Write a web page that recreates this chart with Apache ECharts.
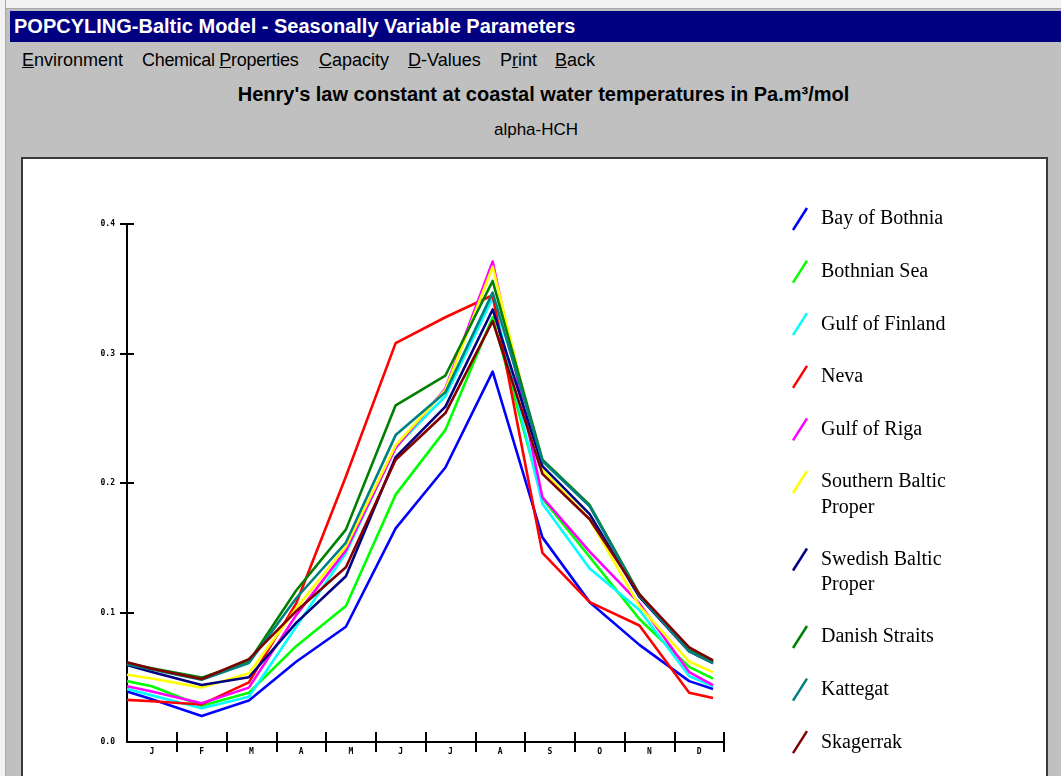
<!DOCTYPE html>
<html><head><meta charset="utf-8">
<script src="https://cdn.jsdelivr.net/npm/echarts@6/dist/echarts.min.js"></script>
<style>
html,body{margin:0;padding:0;background:#c0c0c0;overflow:hidden;width:1061px;height:776px;position:relative}
.abs{position:absolute;white-space:nowrap}
#topstrip{left:0;top:0;width:1061px;height:8px;background:#f2f2f2;border-bottom:1px solid #a8a8a8}
#leftstrip{left:0;top:0;width:5px;height:776px;background:#f2f2f2;border-right:1px solid #a8a8a8}
#titlebar{left:10px;top:11px;width:1051px;height:31px;background:#000080;color:#fff;font:bold 20px "Liberation Sans",Arial,sans-serif;line-height:31px;padding-left:4px;box-sizing:border-box}
.menu{top:49px;font:18px "Liberation Sans",Arial,sans-serif;line-height:22px;color:#000}
#heading{left:0;width:1087px;text-align:center;top:83px;font:bold 20px "Liberation Sans",Arial,sans-serif;line-height:22px;color:#000}
#sub{left:0;width:1072px;text-align:center;top:119px;font:17px "Liberation Sans",Arial,sans-serif;line-height:22px;color:#000}
#panel{left:21px;top:157px;width:1027px;height:640px;background:#fff;border:2px solid #3a3a3a;box-sizing:border-box}
#c{position:absolute;left:0;top:0;width:1061px;height:776px}
</style>
</head><body>
<div class="abs" id="topstrip"></div>
<div class="abs" id="leftstrip"></div>
<div class="abs" id="titlebar">POPCYLING-Baltic Model - Seasonally Variable Parameters</div>
<div class="abs menu" style="left:22px"><u>E</u>nvironment</div>
<div class="abs menu" style="left:142px;letter-spacing:-0.3px">Chemical <u>P</u>roperties</div>
<div class="abs menu" style="left:319px"><u>C</u>apacity</div>
<div class="abs menu" style="left:408px"><u>D</u>-Values</div>
<div class="abs menu" style="left:500px">P<u>r</u>int</div>
<div class="abs menu" style="left:555px"><u>B</u>ack</div>
<div class="abs" id="heading">Henry's law constant at coastal water temperatures in Pa.m³/mol</div>
<div class="abs" id="sub">alpha-HCH</div>
<div class="abs" id="panel"></div>
<div id="c"></div>
<script>
// ---- data ----
const monthLabels = ['J','F','M','A','M','J','J','A','S','O','N','D'];
// x positions of the data nodes, in month units along the axis (0 = start of Jan, 12 = end of Dec)
const xPositions = [0, 0.5, 1.5, 2.45, 3.4, 4.4, 5.4, 6.4, 7.35, 8.35, 9.3, 10.3, 11.3, 11.78];
const seriesNames = ['Bay of Bothnia','Bothnian Sea','Gulf of Finland','Neva','Gulf of Riga',
  'Southern Baltic\nProper','Swedish Baltic\nProper','Danish Straits','Kattegat','Skagerrak'];
const seriesColors = ['#0000ff','#00ff00','#00ffff','#ff0000','#ff00ff','#ffff00','#000080','#008000','#008080','#800000'];
const bayOfBothnia   = [0.039, 0.033, 0.020, 0.032, 0.062, 0.089, 0.165, 0.212, 0.286, 0.158, 0.108, 0.075, 0.047, 0.041];
const bothnianSea    = [0.047, 0.043, 0.028, 0.038, 0.074, 0.105, 0.191, 0.241, 0.328, 0.188, 0.143, 0.095, 0.058, 0.049];
const gulfOfFinland  = [0.041, 0.036, 0.026, 0.035, 0.089, 0.146, 0.228, 0.267, 0.343, 0.184, 0.134, 0.102, 0.051, 0.043];
const neva           = [0.0325, 0.0315, 0.029, 0.046, 0.107, 0.205, 0.308, 0.328, 0.345, 0.146, 0.108, 0.090, 0.038, 0.034];
const gulfOfRiga     = [0.043, 0.039, 0.030, 0.042, 0.098, 0.148, 0.227, 0.273, 0.371, 0.189, 0.147, 0.107, 0.054, 0.044];
const southernBaltic = [0.052, 0.049, 0.042, 0.053, 0.103, 0.151, 0.229, 0.272, 0.367, 0.210, 0.172, 0.105, 0.062, 0.054];
const swedishBaltic  = [0.0595, 0.054, 0.044, 0.050, 0.092, 0.128, 0.220, 0.259, 0.334, 0.213, 0.176, 0.112, 0.070, 0.061];
const danishStraits  = [0.061, 0.057, 0.0497, 0.062, 0.117, 0.164, 0.260, 0.283, 0.356, 0.218, 0.183, 0.114, 0.071, 0.062];
const kattegat       = [0.060, 0.056, 0.048, 0.061, 0.111, 0.154, 0.237, 0.270, 0.347, 0.217, 0.182, 0.113, 0.070, 0.061];
const skagerrak      = [0.0615, 0.0565, 0.0486, 0.064, 0.101, 0.135, 0.218, 0.254, 0.325, 0.207, 0.172, 0.114, 0.073, 0.063];
const seriesValues = [bayOfBothnia, bothnianSea, gulfOfFinland, neva, gulfOfRiga,
  southernBaltic, swedishBaltic, danishStraits, kattegat, skagerrak];
const yMin = 0, yMax = 0.4, yStep = 0.1;

// ---- chart ----
const chart = echarts.init(document.getElementById('c'), null, {renderer: 'canvas'});
const axisBlack = {color: '#000', width: 2};
const tickFont = {fontSize: 8, fontWeight: 'bold', color: '#000', fontFamily: 'DejaVu Sans Mono, monospace'};

// legend drawn as graphic elements, positions from item order
const legendEls = [];
let cy = 219;
seriesNames.forEach((name, i) => {
  legendEls.push({type: 'line', shape: {x1: 793, y1: cy + 11, x2: 807, y2: cy - 11},
    style: {stroke: seriesColors[i], lineWidth: 2.5}, z: 10});
  legendEls.push({type: 'text', x: 821, y: cy - 12.7,
    style: {text: name, fill: '#000', font: '20px "Liberation Serif", "Times New Roman", serif',
      lineHeight: 25.5, verticalAlign: 'top', align: 'left'}, z: 10});
  cy += name.includes('\n') ? 77.5 : 52.6;
});

const option = {
  animation: false,
  backgroundColor: 'transparent',
  grid: {left: 127, right: 337, top: 224, bottom: 34, containLabel: false, outerBoundsMode: 'none'},
  xAxis: [
    {type: 'value', min: 0, max: 12, interval: 1, position: 'bottom',
      axisLine: {show: true, lineStyle: axisBlack},
      axisTick: {show: true, inside: true, length: 10, lineStyle: axisBlack, customValues: [1,2,3,4,5,6,7,8,9,10,11,12]},
      axisLabel: {show: false}, splitLine: {show: false}},
    {type: 'value', min: 0, max: 12, interval: 1, position: 'bottom',
      axisLine: {show: false},
      axisTick: {show: true, inside: false, length: 10, lineStyle: axisBlack, customValues: [1,2,3,4,5,6,7,8,9,10,11,12]},
      axisLabel: {show: false}, splitLine: {show: false}},
    {type: 'category', data: monthLabels, boundaryGap: true, position: 'bottom',
      axisLine: {show: false}, axisTick: {show: false},
      axisLabel: Object.assign({interval: 0, margin: 6}, tickFont), splitLine: {show: false}}
  ],
  yAxis: [
    {type: 'value', min: yMin, max: yMax, interval: yStep, position: 'left',
      axisLine: {show: true, lineStyle: axisBlack},
      axisTick: {show: true, inside: true, length: 7, lineStyle: axisBlack},
      axisLabel: Object.assign({margin: 12, formatter: v => v.toFixed(1)}, tickFont),
      splitLine: {show: false}},
    {type: 'value', min: yMin, max: yMax, interval: yStep, position: 'left',
      axisLine: {show: false},
      axisTick: {show: true, inside: false, length: 7, lineStyle: axisBlack, customValues: [0.1, 0.2, 0.3, 0.4]},
      axisLabel: {show: false}, splitLine: {show: false}}
  ],
  series: seriesNames.map((name, i) => ({
    name: name, type: 'line', xAxisIndex: 0, yAxisIndex: 0,
    data: xPositions.map((x, k) => [x, seriesValues[i][k]]),
    showSymbol: false, symbol: 'none', smooth: false, silent: true,
    lineStyle: {color: seriesColors[i], width: 2.6, join: 'round'},
    z: 2 + i * 0.01
  })),
  graphic: {elements: legendEls}
};
chart.setOption(option);
</script>
</body></html>
